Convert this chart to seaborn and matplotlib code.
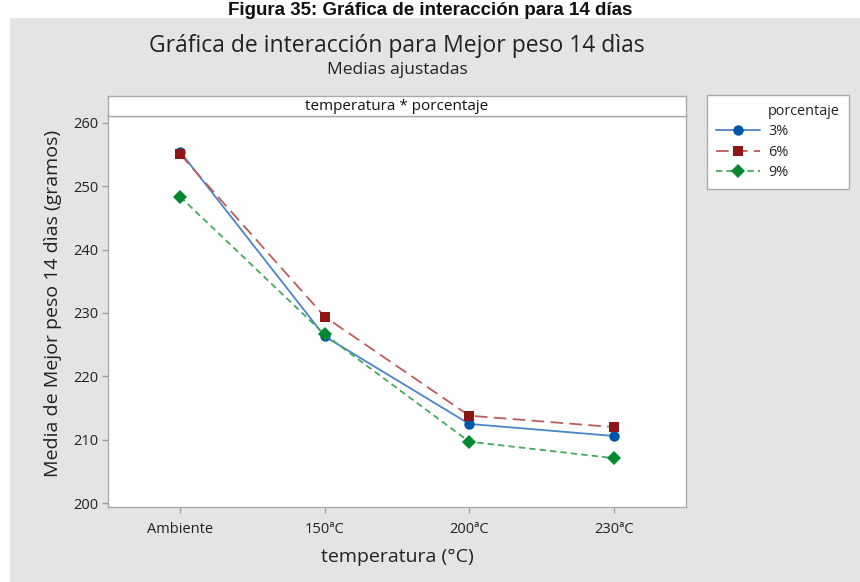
import numpy as np
import pandas as pd
import matplotlib
matplotlib.use("Agg")
import matplotlib.pyplot as plt
import seaborn as sns
from matplotlib.lines import Line2D
from matplotlib.patches import Rectangle

# Adjusted means of the best weight at 14 days
temperaturas = ["Ambiente", "150ªC", "200ªC", "230ªC"]
porcentajes = ["3%", "6%", "9%"]
media_3 = [255.4, 226.3, 212.5, 210.6]
media_6 = [255.0, 229.4, 213.8, 212.0]
media_9 = [248.3, 226.6, 209.7, 207.1]
y_ticks = [200, 210, 220, 230, 240, 250, 260]

df = pd.DataFrame({
    "temperatura": temperaturas * 3,
    "porcentaje": np.repeat(porcentajes, len(temperaturas)),
    "media": media_3 + media_6 + media_9,
})

marker_colors = ["#0057A8", "#8E1616", "#00892E"]
line_colors = ["#4A84C9", "#BF5B5B", "#45A95A"]
markers = ["o", "s", "D"]
marker_sizes = [7.5, 7.5, 7.0]
dash_styles = ["-", (0, (7, 3.5)), (0, (3.5, 2.3))]

sns.set_theme(style="white")
plt.rcParams["font.family"] = ["Open Sans", "DejaVu Sans"]

W, H = 860, 582
fig = plt.figure(figsize=(W / 100, H / 100), dpi=100)
fig.patch.set_facecolor("white")
fig.add_artist(Rectangle((10 / W, 0), 1, (H - 18) / H, transform=fig.transFigure,
                         facecolor="#E4E4E4", edgecolor="none", zorder=-10))

def fx(px):
    return px / W

def fy(py):
    return 1 - py / H

left, right, top, bottom = 108, 686, 116, 507
ax = fig.add_axes([fx(left), fy(bottom), fx(right - left), (bottom - top) / H])
ax.set_facecolor("white")

sns.pointplot(data=df, x="temperatura", y="media", hue="porcentaje",
              order=temperaturas, hue_order=porcentajes,
              palette=marker_colors, markers=markers, linestyles=dash_styles,
              dodge=False, errorbar=None, legend=False, ax=ax)

for line, lc, mc, ms in zip(ax.lines, line_colors, marker_colors, marker_sizes):
    line.set_color(lc)
    line.set_linewidth(1.3)
    line.set_markerfacecolor(mc)
    line.set_markeredgecolor(mc)
    line.set_markeredgewidth(0)
    line.set_markersize(ms)

ax.set_xlim(-0.5, 3.5)
ax.set_ylim(199.4, 261.05)
ax.set_yticks(y_ticks)
ax.set_xlabel("")
ax.set_ylabel("")
for s in ax.spines.values():
    s.set_color("#A9A9A9")
    s.set_linewidth(1.0)
ax.tick_params(axis="both", direction="out", length=4, width=1, color="#A0A0A0",
               labelcolor="#222222", bottom=True, left=True)
ax.tick_params(axis="y", labelsize=10.5, pad=3)
ax.tick_params(axis="x", labelsize=10.5, pad=7)

# Panel header strip
hx = fig.add_axes([fx(left), fy(top), fx(right - left), 20 / H])
hx.set_facecolor("white")
hx.set_xticks([])
hx.set_yticks([])
for s in hx.spines.values():
    s.set_color("#A9A9A9")
    s.set_linewidth(1.0)
hx.text(0.5, 0.5, "temperatura * porcentaje", ha="center", va="center",
        fontsize=11, color="#111111", transform=hx.transAxes)

# Titles and axis labels
fig.text(fx(430), fy(15), "Figura 35: Gráfica de interacción para 14 días",
         ha="center", va="baseline", fontsize=13.5, fontweight="bold",
         family=["Liberation Sans", "DejaVu Sans"], color="#111111")
fig.text(fx(397), fy(46), "Gráfica de interacción para Mejor peso 14 dìas",
         ha="center", va="center", fontsize=16.5, color="#222222")
fig.text(fx(397), fy(70), "Medias ajustadas", ha="center", va="center",
         fontsize=12.5, color="#222222")
fig.text(fx(53), fy(303), "Media de Mejor peso 14 dìas (gramos)", rotation=90,
         ha="center", va="center", fontsize=14, color="#222222")
fig.text(fx(397), fy(557), "temperatura (°C)", ha="center", va="center",
         fontsize=14, color="#222222")

# Legend
handles = [Line2D([], [], linestyle="none", marker=None)]
labels = ["porcentaje"]
for p, lc, mc, m, ms, ds in zip(porcentajes, line_colors, marker_colors, markers,
                                 marker_sizes, dash_styles):
    handles.append(Line2D([], [], color=lc, linestyle=ds, linewidth=1.3, marker=m,
                          markersize=ms, markerfacecolor=mc, markeredgewidth=0))
    labels.append(p)
leg = fig.legend(handles, labels, loc="upper left", bbox_to_anchor=(fx(707), fy(95)),
                 frameon=True, fancybox=False, framealpha=1, fontsize=10.4,
                 handlelength=3.05, handletextpad=0.55, labelspacing=0.38,
                 borderpad=0.62, borderaxespad=0, numpoints=1)
leg.get_frame().set_edgecolor("#A9A9A9")
leg.get_frame().set_linewidth(1.0)
leg.get_frame().set_facecolor("white")
for t in leg.get_texts():
    t.set_color("#222222")

fig.savefig("out.png", dpi=100)
